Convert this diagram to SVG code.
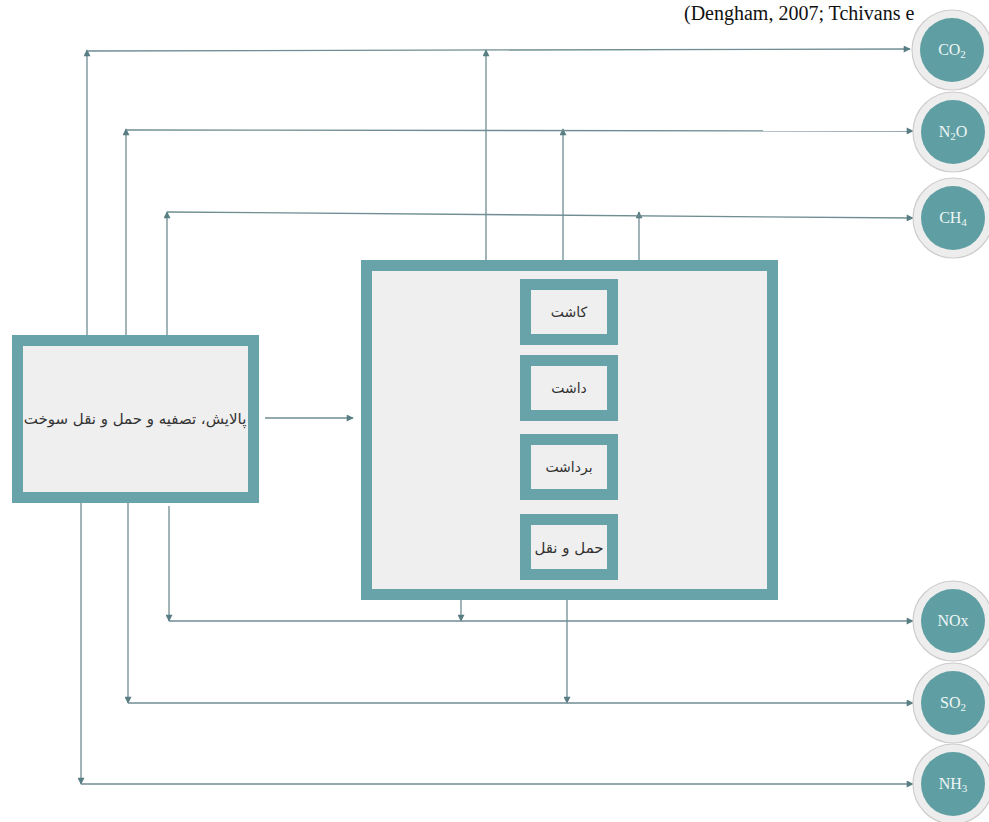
<svg xmlns="http://www.w3.org/2000/svg" width="989" height="822" viewBox="0 0 989 822">
  <defs>
    <marker id="arrow" viewBox="0 0 10 10" refX="9" refY="5" markerWidth="8" markerHeight="7" markerUnits="userSpaceOnUse" orient="auto">
      <path d="M0,0 L10,5 L0,10 z" fill="#587e84"/>
    </marker>
    <style>
      .box { fill: #efefef; stroke: #67a3a9; stroke-width: 11; }
      .ring { fill: #ededed; stroke: #cfcbcb; stroke-width: 1.2; }
      .gas { fill: #5f9fa3; }
      .gas-t { font-family: "Liberation Serif", serif; font-size: 16px; fill: #eef6f6; text-anchor: middle; }
      .fa { font-family: "DejaVu Sans", sans-serif; fill: #333333; text-anchor: middle; direction: rtl; }
      .la { fill: none; stroke: #6f8d92; stroke-width: 1.3; marker-end: url(#arrow); }
      .ref { font-family: "Liberation Serif", serif; font-size: 20px; fill: #111111; }
    </style>
  </defs>

  <rect width="989" height="822" fill="#ffffff"/>

  <text class="ref" x="684" y="20">(Dengham, 2007; Tchivans e</text>

  <!-- connectors -->
  <g id="connectors">
    <!-- CO2 branch -->
    <line class="la" x1="87" y1="335" x2="87" y2="50"/>
    <line class="la" x1="486" y1="260" x2="486" y2="50"/>
    <line class="la" x1="87" y1="51" x2="910" y2="49"/>
    <!-- N2O branch -->
    <line class="la" x1="126" y1="335" x2="126" y2="129"/>
    <line class="la" x1="563" y1="260" x2="563" y2="129"/>
    <line class="la" x1="126" y1="130" x2="913" y2="131"/>
    <!-- CH4 branch -->
    <line class="la" x1="167" y1="344" x2="167" y2="212"/>
    <line class="la" x1="639" y1="260" x2="639" y2="212"/>
    <line class="la" x1="167" y1="212" x2="913" y2="218"/>
    <!-- fuel chain to farming stages -->
    <line class="la" x1="265" y1="418" x2="353" y2="418"/>
    <!-- NOx branch -->
    <line class="la" x1="169" y1="506" x2="169" y2="621"/>
    <line class="la" x1="461" y1="600" x2="461" y2="621"/>
    <line class="la" x1="169" y1="621" x2="913" y2="621"/>
    <!-- SO2 branch -->
    <line class="la" x1="128" y1="494" x2="128" y2="703"/>
    <line class="la" x1="567" y1="600" x2="567" y2="703"/>
    <line class="la" x1="128" y1="703" x2="913" y2="703"/>
    <!-- NH3 branch -->
    <line class="la" x1="81" y1="494" x2="81" y2="784"/>
    <line class="la" x1="81" y1="784" x2="913" y2="784"/>
  </g>

  <!-- fuel supply chain -->
  <g id="fuel">
    <rect class="box" x="17.5" y="340.5" width="236" height="157"/>
    <text class="fa" x="135" y="424" font-size="15">پالایش، تصفیه و حمل و نقل سوخت</text>
  </g>

  <!-- farming stages -->
  <g id="farm">
    <rect class="box" x="366.5" y="265.5" width="406" height="329"/>
  </g>
  <g id="stage-planting">
    <rect class="box" x="525.5" y="284.5" width="87" height="55"/>
    <text class="fa" x="569" y="317" font-size="14">کاشت</text>
  </g>
  <g id="stage-growing">
    <rect class="box" x="525.5" y="360.5" width="87" height="55"/>
    <text class="fa" x="569" y="393" font-size="14">داشت</text>
  </g>
  <g id="stage-harvest">
    <rect class="box" x="525.5" y="439.5" width="87" height="55"/>
    <text class="fa" x="569" y="472" font-size="14">برداشت</text>
  </g>
  <g id="stage-transport">
    <rect class="box" x="525.5" y="519.5" width="87" height="55"/>
    <text class="fa" x="569" y="553" font-size="15">حمل و نقل</text>
  </g>

  <!-- emitted gases -->
  <g id="gas-co2">
    <circle class="ring" cx="952" cy="50" r="40"/>
    <circle class="gas" cx="952" cy="50" r="32"/>
    <text class="gas-t" x="952" y="55">CO<tspan font-size="11" dy="3">2</tspan></text>
  </g>
  <g id="gas-n2o">
    <circle class="ring" cx="953" cy="132" r="40"/>
    <circle class="gas" cx="953" cy="132" r="32"/>
    <text class="gas-t" x="953" y="137">N<tspan font-size="11" dy="3">2</tspan><tspan dy="-3">O</tspan></text>
  </g>
  <g id="gas-ch4">
    <circle class="ring" cx="953" cy="218" r="40"/>
    <circle class="gas" cx="953" cy="218" r="32"/>
    <text class="gas-t" x="953" y="223">CH<tspan font-size="11" dy="3">4</tspan></text>
  </g>
  <g id="gas-nox">
    <circle class="ring" cx="953" cy="621" r="40"/>
    <circle class="gas" cx="953" cy="621" r="32"/>
    <text class="gas-t" x="953" y="626">NOx</text>
  </g>
  <g id="gas-so2">
    <circle class="ring" cx="953" cy="703" r="40"/>
    <circle class="gas" cx="953" cy="703" r="32"/>
    <text class="gas-t" x="953" y="708">SO<tspan font-size="11" dy="3">2</tspan></text>
  </g>
  <g id="gas-nh3">
    <circle class="ring" cx="953" cy="784" r="40"/>
    <circle class="gas" cx="953" cy="784" r="32"/>
    <text class="gas-t" x="953" y="789">NH<tspan font-size="11" dy="3">3</tspan></text>
  </g>
</svg>
